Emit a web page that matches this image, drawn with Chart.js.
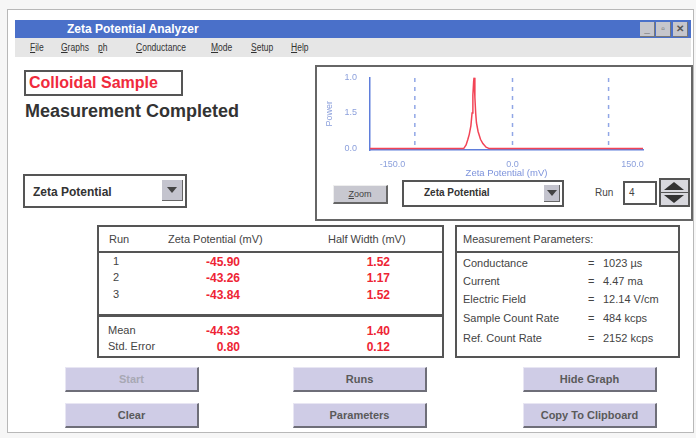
<!DOCTYPE html>
<html>
<head>
<meta charset="utf-8">
<script src="https://cdn.jsdelivr.net/npm/chart.js@4"></script>
<style>
    body { margin: 0; width: 696px; height: 438px; background: #f6f6f6; font-family: 'Liberation Sans', Arial, sans-serif; position: relative; overflow: hidden; }
    .abs { position: absolute; }
    .window { left: 7px; top: 9px; width: 685px; height: 422px; background: #fff; border: 1px solid #b8b8b8; }
    .titlebar { left: 15px; top: 20px; width: 676px; height: 18px; background: #4a70c9; color: #fff; font-weight: bold; font-size: 12px; line-height: 18px; }
    .titlebar span { position: absolute; left: 52px; }
    .wbtn { top: 22px; width: 14px; height: 14px; background: #c6c6cc; border-right: 1px solid #777; border-bottom: 1px solid #777; font-size: 10px; line-height: 14px; text-align: center; color: #555; font-weight: bold; }
    .menubar { left: 15px; top: 38px; width: 676px; height: 19px; background: #e6e6e6; font-size: 10px; line-height: 20px; color: #333; }
    .menubar span { position: absolute; transform: scaleX(0.85); transform-origin: left center; }
    .sample { left: 24px; top: 70px; width: 152px; height: 22px; border: 2px solid #555; color: #f02a3c; font-weight: bold; font-size: 16px; line-height: 22px; padding-left: 3px; }
    .status { left: 25px; top: 101px; font-size: 18px; font-weight: bold; color: #333; }
    .select { border: 2px solid #555; background: #fff; font-weight: bold; color: #333; }
    .arrowbtn { background: #c4c4ce; border-right: 1px solid #666; border-bottom: 1px solid #666; }
    .arrowbtn:after { content: ''; position: absolute; left: 50%; top: 50%; margin-left: -5px; margin-top: -3px; border-left: 5px solid transparent; border-right: 5px solid transparent; border-top: 6px solid #444; }
    .panel { left: 315px; top: 65px; width: 374px; height: 152px; border: 2px solid #666; background: #fff; }
    .box { border: 2px solid #555; background: #fff; font-size: 11px; color: #444; }
    .t { position: absolute; white-space: nowrap; }
    .red { color: #ee2434; font-weight: bold; font-size: 12px; }
    .hline { position: absolute; left: 0; right: 0; height: 0; border-top: 2px solid #555; }
    .btn { width: 131px; height: 22px; background: #cfcce6; border-top: 1px solid #e8e6f3; border-left: 1px solid #e8e6f3; border-right: 2px solid #6e6e78; border-bottom: 2px solid #6e6e78; text-align: center; font-size: 11px; font-weight: bold; color: #5a5a5a; line-height: 22px; }
</style>
</head>
<body>
<div class="abs window"></div>
<div class="abs titlebar"><span>Zeta Potential Analyzer</span></div>
<div class="abs wbtn" style="left:640px;">_</div>
<div class="abs wbtn" style="left:656px;">▫</div>
<div class="abs wbtn" style="left:673px;">✕</div>
<div class="abs menubar">
    <span style="left:15px;"><u>F</u>ile</span>
    <span style="left:46px;"><u>G</u>raphs</span>
    <span style="left:83px;"><u>p</u>h</span>
    <span style="left:121px;"><u>C</u>onductance</span>
    <span style="left:196px;"><u>M</u>ode</span>
    <span style="left:236px;"><u>S</u>etup</span>
    <span style="left:276px;"><u>H</u>elp</span>
</div>

<div class="abs sample">Colloidal Sample</div>
<div class="abs status">Measurement Completed</div>

<div class="abs select" style="left:23px; top:174px; width:160px; height:30px;">
    <span class="t" style="left:8px; top:9px; font-size:12px;">Zeta Potential</span>
    <div class="abs arrowbtn" style="left:137px; top:4px; width:20px; height:20px;"></div>
</div>

<div class="abs panel">
    <div style="position:absolute; left:1px; top:0px; width:370px; height:112px;">
        <canvas id="zetaChart" width="370" height="112"></canvas>
    </div>
    <div class="abs" style="left:16px; top:118px; width:52px; height:16px; background:#c8c8d0; border-top:1px solid #eee; border-left:1px solid #eee; border-right:2px solid #666; border-bottom:2px solid #666; font-size:9px; text-align:center; line-height:16px; color:#444;"><u>Z</u>oom</div>
    <div class="abs select" style="left:85px; top:113px; width:158px; height:23px;">
        <span class="t" style="left:20px; top:5px; font-size:10px;">Zeta Potential</span>
        <div class="abs arrowbtn" style="left:140px; top:3px; width:15px; height:16px;"></div>
    </div>
    <span class="t" style="left:278px; top:120px; font-size:10px; color:#444;">Run</span>
    <div class="abs" style="left:306px; top:114px; width:30px; height:20px; border:2px solid #555; font-size:10px; color:#444;"><span class="t" style="left:4px; top:4px;">4</span></div>
    <div class="abs" style="left:342px; top:111px; width:27px; height:25px; border:2px solid #555; background:#d8d8de;">
        <div class="abs" style="left:3px; top:2px; border-left:10px solid transparent; border-right:10px solid transparent; border-bottom:8px solid #333;"></div>
        <div class="abs" style="left:0; right:0; top:12px; border-top:1px solid #555;"></div>
        <div class="abs" style="left:3px; top:15px; border-left:10px solid transparent; border-right:10px solid transparent; border-top:8px solid #333;"></div>
    </div>
</div>

<div class="abs box" style="left:97px; top:225px; width:343px; height:129px;">
    <span class="t" style="left:10px; top:6px;">Run</span>
    <span class="t" style="left:69px; top:6px;">Zeta Potential (mV)</span>
    <span class="t" style="left:229px; top:6px;">Half Width (mV)</span>
    <div class="hline" style="top:24px;"></div>
    <div id="runRows"></div>
    <div class="hline" style="top:87px; border-top-width:3px;"></div>
    <span class="t" style="left:9px; top:97px;">Mean</span>
    <span class="t" style="left:9px; top:113px;">Std. Error</span>
    <div id="statRows"></div>
</div>

<div class="abs box" style="left:455px; top:225px; width:221px; height:129px;">
    <span class="t" style="left:6px; top:6px;">Measurement Parameters:</span>
    <div class="hline" style="top:24px;"></div>
    <div id="paramRows"></div>
</div>

<div class="abs btn" style="left:65px; top:367px; color:#a8a8b4;">Start</div>
<div class="abs btn" style="left:293px; top:367px;">Runs</div>
<div class="abs btn" style="left:523px; top:367px;">Hide Graph</div>
<div class="abs btn" style="left:65px; top:403px;">Clear</div>
<div class="abs btn" style="left:293px; top:403px;">Parameters</div>
<div class="abs btn" style="left:523px; top:403px;">Copy To Clipboard</div>

<script>
// Spectrum trace (Zeta Potential mV vs Power)
const peakX = [-178, -61, -58, -56, -54, -52, -50.5, -49.5, -48.5, -48, -47, -46, -45, -43, -40, -37, -33, -29, 163];
const peakY = [0, 0, 0.05, 0.12, 0.2, 0.32, 0.5, 0.75, 0.95, 1.0, 0.72, 0.5, 0.36, 0.24, 0.13, 0.07, 0.02, 0, 0];

// Dashed marker lines
const markerX = [-122, 0, 120];

// Axis ticks
const xTickValues = [-150, 0, 150];
const xTickLabels = ['-150.0', '0.0', '150.0'];
const yTickValues = [0, 0.5, 1.0];
const yTickLabels = ['0.0', '1.5', '1.0'];

// Results table
const runs = ['1', '2', '3'];
const zetaValues = ['-45.90', '-43.26', '-43.84'];
const halfWidths = ['1.52', '1.17', '1.52'];
const statLabels = ['Mean', 'Std. Error'];
const statZeta = ['-44.33', '0.80'];
const statHalf = ['1.40', '0.12'];

// Measurement parameters
const paramNames = ['Conductance', 'Current', 'Electric Field', 'Sample Count Rate', 'Ref. Count Rate'];
const paramValues = ['1023 \u00b5s', '4.47 ma', '12.14 V/cm', '484 kcps', '2152 kcps'];

function fillTables() {
    const rowTops = [28, 44, 61];
    document.getElementById('runRows').innerHTML = runs.map((r, i) => `
        <span class="t" style="left:14px; top:${rowTops[i]}px;">${r}</span>
        <span class="t red" style="right:202px; top:${rowTops[i]}px;">${zetaValues[i]}</span>
        <span class="t red" style="right:52px; top:${rowTops[i]}px;">${halfWidths[i]}</span>
    `).join('');

    const statTops = [97, 113];
    document.getElementById('statRows').innerHTML = statLabels.map((s, i) => `
        <span class="t red" style="right:202px; top:${statTops[i]}px;">${statZeta[i]}</span>
        <span class="t red" style="right:52px; top:${statTops[i]}px;">${statHalf[i]}</span>
    `).join('');

    const paramTops = [30, 48, 66, 85, 105];
    document.getElementById('paramRows').innerHTML = paramNames.map((p, i) => `
        <span class="t" style="left:6px; top:${paramTops[i]}px;">${p}</span>
        <span class="t" style="left:131px; top:${paramTops[i]}px;">=</span>
        <span class="t" style="left:146px; top:${paramTops[i]}px;">${paramValues[i]}</span>
    `).join('');
}

fillTables();

const axisBlue = '#5f7edb';
const labelBlue = '#8ca0dc';

const datasets = [{
    data: peakX.map((x, i) => ({ x: x, y: peakY[i] })),
    borderColor: '#f24456',
    borderWidth: 1.5,
    pointRadius: 0,
    tension: 0
}];

markerX.forEach(x => {
    datasets.push({
        data: [{ x: x, y: 0.05 }, { x: x, y: 1.0 }],
        borderColor: '#90a6e6',
        borderWidth: 1.5,
        borderDash: [4, 5],
        pointRadius: 0
    });
});

new Chart(document.getElementById('zetaChart'), {
    type: 'line',
    data: { datasets: datasets },
    options: {
        responsive: false,
        animation: false,
        layout: { padding: { top: 8, right: 45, left: 0, bottom: 0 } },
        plugins: {
            legend: { display: false },
            tooltip: { enabled: false }
        },
        scales: {
            x: {
                type: 'linear',
                min: -178,
                max: 163,
                afterBuildTicks: scale => { scale.ticks = xTickValues.map(v => ({ value: v })); },
                afterFit: scale => { scale.height = 29; },
                grid: { display: false },
                border: { color: axisBlue, width: 1.5 },
                ticks: {
                    color: labelBlue,
                    font: { size: 9, family: 'Liberation Sans' },
                    padding: 1,
                    maxRotation: 0,
                    callback: (v, i) => xTickLabels[i]
                },
                title: {
                    display: true,
                    text: 'Zeta Potential (mV)',
                    color: '#7d93dc',
                    font: { size: 9.5, family: 'Liberation Sans' },
                    padding: { top: 0, bottom: 0 }
                }
            },
            y: {
                min: -0.02,
                max: 1.0,
                afterBuildTicks: scale => { scale.ticks = yTickValues.map(v => ({ value: v })); },
                afterFit: scale => { scale.width = 52; },
                grid: { display: false },
                border: { color: axisBlue, width: 1.5 },
                ticks: {
                    color: labelBlue,
                    font: { size: 9, family: 'Liberation Sans' },
                    padding: 5,
                    callback: (v, i) => yTickLabels[i]
                },
                title: {
                    display: true,
                    text: 'Power',
                    color: labelBlue,
                    font: { size: 9, family: 'Liberation Sans' },
                    padding: { top: 6, bottom: 0 }
                }
            }
        }
    }
});
</script>
</body>
</html>
